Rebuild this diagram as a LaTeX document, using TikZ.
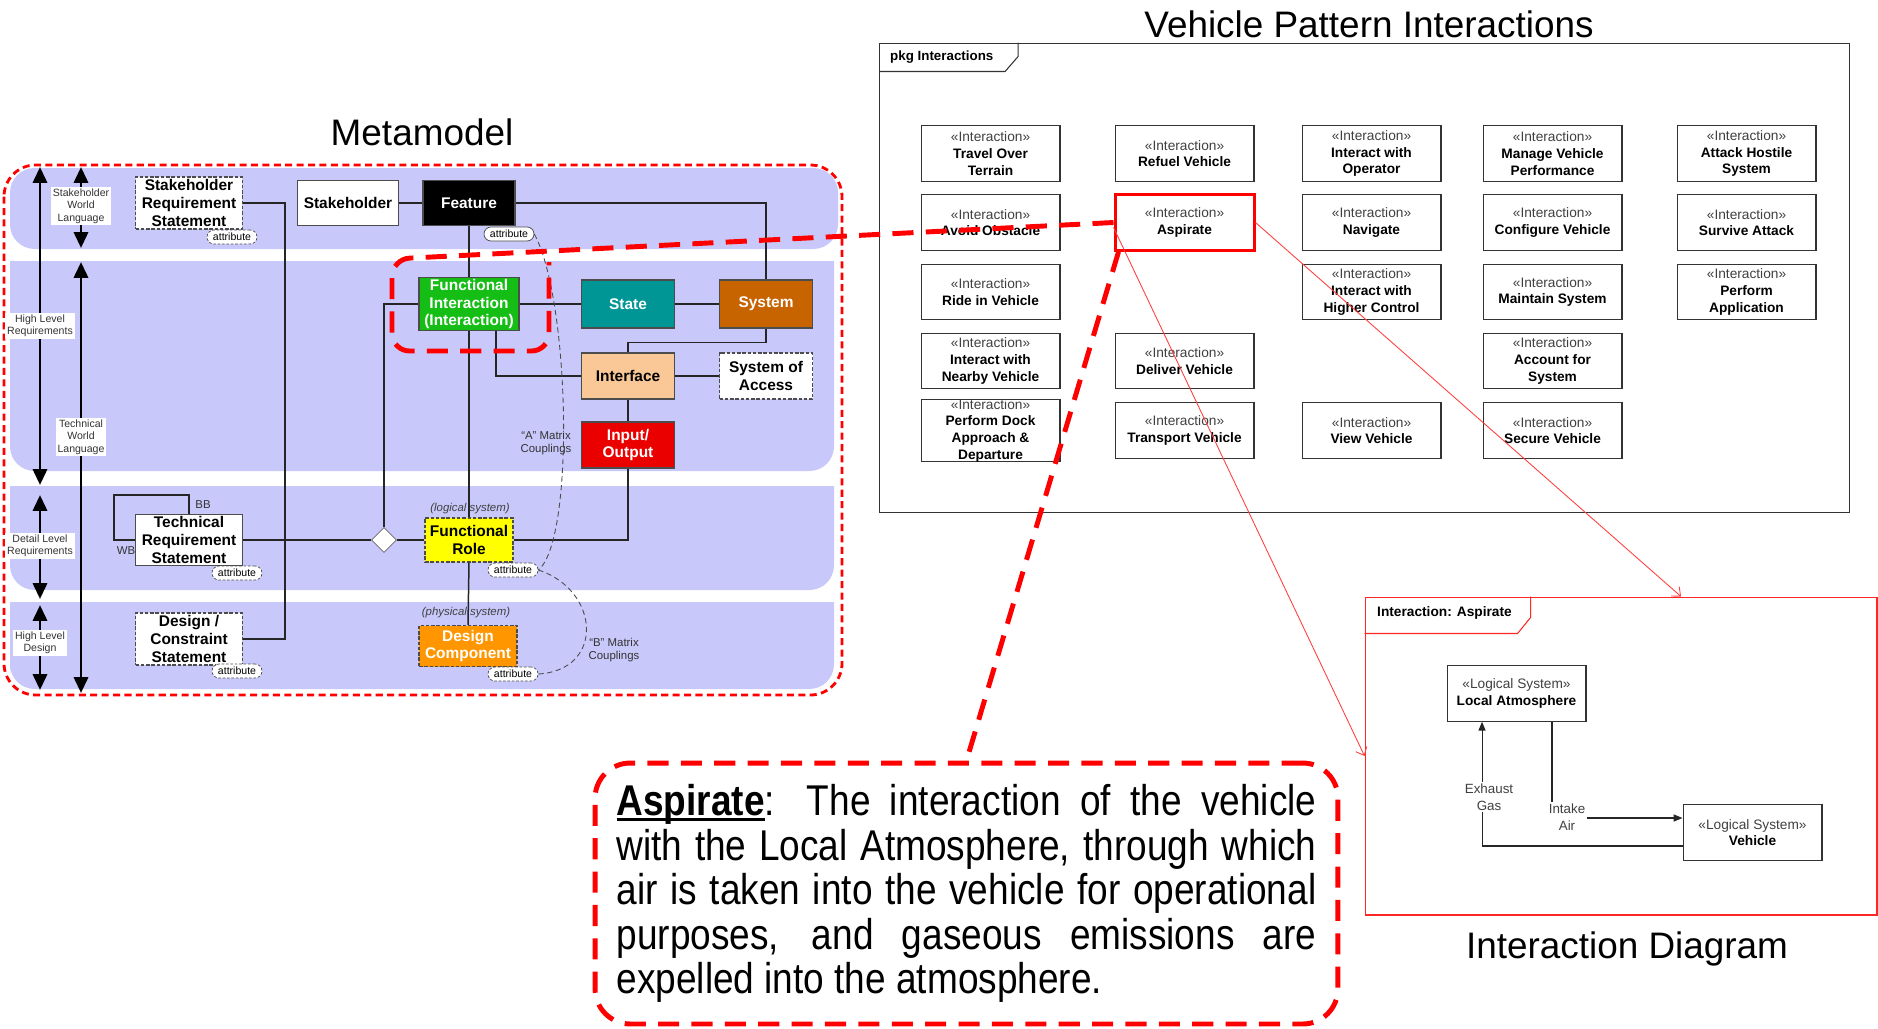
\documentclass[tikz,border=0pt]{standalone}
\usepackage{fontspec}
\setmainfont{Liberation Sans}
\newfontfamily\narrowfont[FakeStretch=0.86]{Liberation Sans}
\usetikzlibrary{arrows.meta, shapes.geometric}

\definecolor{bandblue}{RGB}{200,200,250}
\definecolor{figreen}{RGB}{20,190,20}
\definecolor{stateteal}{RGB}{0,150,150}
\definecolor{sysbrown}{RGB}{200,100,0}
\definecolor{peach}{RGB}{250,200,150}
\definecolor{iored}{RGB}{235,0,0}
\definecolor{roleyellow}{RGB}{255,255,0}
\definecolor{comporange}{RGB}{255,150,0}
\definecolor{hired}{RGB}{255,0,0}

\tikzset{
  band/.style = {fill = bandblue},
  mbox/.style = {draw = black!70, line width = 0.6pt, align = center, inner sep = 1pt,
    font = \fontsize{8.8}{10.2}\selectfont\bfseries},
  dbox/.style = {mbox, dash pattern = on 2pt off 1pt},
  attr/.style = {draw = black!70, fill = white, dash pattern = on 1.5pt off 1pt,
    rounded corners = 0.14cm, minimum width = 1cm, minimum height = 0.28cm,
    inner sep = 0.5pt, font = \fontsize{6}{6}\selectfont},
  side/.style = {fill = white, inner sep = 1pt, align = center, text = black!80,
    font = \fontsize{6}{7}\selectfont},
  twoway/.style = {line width = 1.7pt,
    {Triangle[length = 9pt, width = 8pt]}-{Triangle[length = 9pt, width = 8pt]}},
  link/.style = {line width = 0.85pt, black!85},
  couple/.style = {black!70, line width = 0.5pt, dash pattern = on 3pt off 2pt},
  ia/.style = {draw = black!80, fill = white, line width = 0.6pt, minimum width = 2.78cm,
    minimum height = 1.11cm, align = center, inner sep = 0pt,
    font = \fontsize{7.8}{9.5}\selectfont},
  heavy/.style = {hired, line width = 2.8pt, dash pattern = on 12pt off 7pt},
  thinred/.style = {red!75, line width = 0.5pt, -{Straight Barb[length = 4pt, width = 7pt]}},
  flow/.style = {black!85, line width = 0.6pt, -{Triangle[length = 5pt, width = 4pt]}},
  title/.style = {font = \fontsize{21}{24}\selectfont}
}
\newcommand\stereo[1]{{\color{black!75}«#1»}\\}
\newlength\asplen
\newcommand\aspword{\settowidth\asplen{\textbf{Aspirate}}%
  \rlap{\rule[-3.2pt]{\asplen}{1.7pt}}\textbf{Aspirate}}

\begin{document}
\begin{tikzpicture}[x = 0.02cm, y = -0.02cm]
    \useasboundingbox (0,0) rectangle (1878,1028);

    \fill [band, rounded corners = 14pt] (423,249) -- (10,249) -- (10,168)
      -- (838,168) -- (838,249) [sharp corners] -- cycle;
    \fill [band] (10,366) -- (10,261) -- (834,261) [rounded corners = 14pt]
      -- (834,471) -- (10,471) -- cycle;
    \fill [band] (10,540) -- (10,486) -- (834,486) [rounded corners = 14pt]
      -- (834,590) -- (10,590) -- cycle;
    \fill [band] (10,650) -- (10,602) -- (834,602) [rounded corners = 14pt]
      -- (834,689) -- (10,689) -- cycle;
    \draw [hired, line width = 1.6pt, dash pattern = on 4pt off 2.5pt,
      rounded corners = 18pt] (4,165) rectangle (842,695);

    \node [title] (mtitle) at (422,132) {Metamodel};
    \node [title] (ptitle) at (1369,24) {Vehicle Pattern Interactions};
    \node [title] (dtitle) at (1627,949) {Interaction Diagram};

    \draw [twoway] (40,167) -- (40,485);
    \draw [twoway] (40,495) -- (40,599);
    \draw [twoway] (40,605) -- (40,690);
    \draw [twoway] (81,167) -- (81,248);
    \draw [twoway] (81,262) -- (81,693);
    \node [side] (swl) at (81,206) {Stakeholder\\World\\Language};
    \node [side] (hlr) at (40,326) {High Level\\Requirements};
    \node [side] (twl) at (81,437) {Technical\\World\\Language};
    \node [side] (dlr) at (40,546) {Detail Level\\Requirements};
    \node [side] (hld) at (40,643) {High Level\\Design};

    \node [dbox, fill = white, minimum width = 2.14cm, minimum height = 1.04cm]
      (srs) at (189,203) {Stakeholder\\Requirement\\Statement};
    \node [mbox, fill = white, minimum width = 2.02cm, minimum height = 0.9cm]
      (stk) at (348,203) {Stakeholder};
    \node [mbox, fill = black, text = white, minimum width = 1.84cm, minimum height = 0.9cm]
      (feat) at (469,203) {Feature};
    \node [mbox, fill = figreen, text = white, minimum width = 2cm, minimum height = 1.06cm]
      (fi) at (469,304) {Functional\\Interaction\\(Interaction)};
    \node [mbox, fill = stateteal, text = white, minimum width = 1.86cm, minimum height = 0.96cm]
      (state) at (628,304) {State};
    \node [mbox, fill = sysbrown, text = white, minimum width = 1.86cm, minimum height = 0.96cm]
      (sys) at (766,304) {System};
    \node [mbox, fill = peach, minimum width = 1.86cm, minimum height = 0.92cm]
      (intf) at (628,376) {Interface};
    \node [dbox, fill = white, minimum width = 1.86cm, minimum height = 0.92cm]
      (soa) at (766,376) {System of\\Access};
    \node [mbox, fill = iored, text = white, minimum width = 1.86cm, minimum height = 0.92cm]
      (io) at (628,445) {Input/\\Output};
    \node [mbox, fill = white, minimum width = 2.14cm, minimum height = 1cm]
      (trs) at (189,540) {Technical\\Requirement\\Statement};
    \node [draw = black!60, fill = white, diamond, minimum size = 0.5cm, inner sep = 0pt]
      (dia) at (384,540) {};
    \node [dbox, fill = roleyellow, minimum width = 1.76cm, minimum height = 0.88cm]
      (frole) at (469,540) {Functional\\Role};
    \node [dbox, fill = white, minimum width = 2.14cm, minimum height = 1.04cm]
      (dcs) at (189,639) {Design /\\Constraint\\Statement};
    \node [dbox, fill = comporange, text = white, minimum width = 1.96cm, minimum height = 0.82cm]
      (dcomp) at (468,646) {Design\\Component};

    \node [font = \fontsize{6.5}{7}\selectfont\itshape, text = black!75]
      (logic) at (470,509) {(logical system)};
    \node [font = \fontsize{6.5}{7}\selectfont\itshape, text = black!75]
      (phys) at (466,613) {(physical system)};
    \node [font = \fontsize{6.5}{7}\selectfont, text = black!80] (bb) at (203,505) {BB};
    \node [font = \fontsize{6.5}{7}\selectfont, text = black!80] (wb) at (126,551) {WB};

    \draw [link] (srs.east) -- ++(42,0) |- (dcs.east);
    \draw [link] (stk) -- (feat);
    \draw [link] (feat.east) -| (sys.north);
    \draw [link] (feat.south) -- (fi.north);
    \draw [link] (fi.south) -- (frole.north);
    \draw [link] (frole.south) -- (dcomp.north);
    \draw [link] (fi.west) -| (dia.north);
    \draw [link] (fi) -- (state);
    \draw [link] (state) -- (sys);
    \draw [link] ([xshift = 0.54cm]fi.south) |- (intf.west);
    \draw [link] (sys.south) -- ++(0,14) -| (intf.north);
    \draw [link] (intf) -- (soa);
    \draw [link] (intf) -- (io);
    \draw [link] (io.south) |- (frole.east);
    \draw [link] (trs) -- (dia);
    \draw [link] (dia) -- (frole);
    \draw [link] (trs.west) -- ++(-21,0) -- ++(0,-45) -| (trs.north);

    \node [attr, solid] (featattr) at (509,234) {attribute};
    \node [attr] (srsattr) at (232,237) {attribute};
    \node [attr] (trsattr) at (237,573) {attribute};
    \node [attr] (roleattr) at (513,570) {attribute};
    \node [attr] (dcsattr) at (237,671) {attribute};
    \node [attr] (compattr) at (513,674) {attribute};

    \draw [couple] (featattr.east) .. controls (570,300) and (575,540) .. (roleattr.east);
    \draw [couple] (roleattr.east) .. controls (600,590) and (605,670) .. (compattr.east);
    \node [align = center, text = black!80, font = \fontsize{6.5}{7.5}\selectfont]
      (amat) at (546,443) {“A” Matrix\\Couplings};
    \node [align = center, text = black!80, font = \fontsize{6.5}{7.5}\selectfont]
      (bmat) at (614,650) {“B” Matrix\\Couplings};

    \node [draw = black!80, line width = 0.6pt, minimum width = 19.4cm, minimum height = 9.4cm]
      (pkg) at (1364.5,278) {};
    \draw [black!80, line width = 0.6pt] (pkg.north west) ++(0,29) -- ++(126,0)
      -- ++(13,-15) -- ++(0,-14);
    \node [anchor = west, font = \fontsize{7.6}{9}\selectfont\bfseries]
      (pkglbl) at (884,57) {pkg Interactions};

    \node [ia] (travel) at (990.5,153.5) {\stereo{Interaction}\textbf{Travel Over}\\\textbf{Terrain}};
    \node [ia] (refuel) at (1184.5,153.5) {\stereo{Interaction}\textbf{Refuel Vehicle}};
    \node [ia] (operator) at (1371.5,153.5) {\stereo{Interaction}\textbf{Interact with}\\\textbf{Operator}};
    \node [ia] (manage) at (1552.5,153.5) {\stereo{Interaction}\textbf{Manage Vehicle}\\\textbf{Performance}};
    \node [ia] (attack) at (1746.5,153.5) {\stereo{Interaction}\textbf{Attack Hostile}\\\textbf{System}};
    \node [ia] (avoid) at (990.5,222.5) {\stereo{Interaction}\textbf{Avoid Obstacle}};
    \node [ia, draw = red, line width = 1.7pt] (asp) at (1184.5,222.5) {\stereo{Interaction}\textbf{Aspirate}};
    \node [ia] (navigate) at (1371.5,222.5) {\stereo{Interaction}\textbf{Navigate}};
    \node [ia] (configure) at (1552.5,222.5) {\stereo{Interaction}\textbf{Configure Vehicle}};
    \node [ia] (survive) at (1746.5,222.5) {\stereo{Interaction}\textbf{Survive Attack}};
    \node [ia] (ride) at (990.5,292) {\stereo{Interaction}\textbf{Ride in Vehicle}};
    \node [ia] (higher) at (1371.5,292) {\stereo{Interaction}\textbf{Interact with}\\\textbf{Higher Control}};
    \node [ia] (maintain) at (1552.5,292) {\stereo{Interaction}\textbf{Maintain System}};
    \node [ia] (perform) at (1746.5,292) {\stereo{Interaction}\textbf{Perform}\\\textbf{Application}};
    \node [ia] (nearby) at (990.5,361) {\stereo{Interaction}\textbf{Interact with}\\\textbf{Nearby Vehicle}};
    \node [ia] (deliver) at (1184.5,361) {\stereo{Interaction}\textbf{Deliver Vehicle}};
    \node [ia] (account) at (1552.5,361) {\stereo{Interaction}\textbf{Account for}\\\textbf{System}};
    \node [ia] (dock) at (990.5,430.5) {\stereo{Interaction}\textbf{Perform Dock}\\\textbf{Approach \&}\\\textbf{Departure}};
    \node [ia] (transport) at (1184.5,430.5) {\stereo{Interaction}\textbf{Transport Vehicle}};
    \node [ia] (view) at (1371.5,430.5) {\stereo{Interaction}\textbf{View Vehicle}};
    \node [ia] (secure) at (1552.5,430.5) {\stereo{Interaction}\textbf{Secure Vehicle}};

    \node [draw = red!85, line width = 0.6pt, minimum width = 10.24cm, minimum height = 6.36cm]
      (idframe) at (1621,756) {};
    \draw [red!85, line width = 0.6pt] (idframe.north west) ++(0,37) -- ++(153,0)
      -- ++(13,-16) -- ++(0,-21);
    \node [anchor = west, font = \fontsize{7.8}{9}\selectfont\bfseries]
      (idlbl) at (1371,613) {Interaction: Aspirate};

    \node [ia] (la) at (1516.5,693.5) {\stereo{Logical System}\textbf{Local Atmosphere}};
    \node [ia] (veh) at (1752.5,832.5) {\stereo{Logical System}\textbf{Vehicle}};
    \draw [flow] ([yshift = -0.27cm]veh.west) -| ([xshift = -0.69cm]la.south);
    \draw [flow] ([xshift = 0.71cm]la.south) |- ([yshift = 0.29cm]veh.west);
    \node [fill = white, align = center, inner sep = 1pt, text = black!75,
      font = \fontsize{7.6}{9.4}\selectfont] (exhaust) at (1489,797) {Exhaust\\Gas};
    \node [fill = white, align = center, inner sep = 1pt, text = black!75,
      font = \fontsize{7.6}{9.4}\selectfont] (intake) at (1567,817) {Intake\\Air};

    \draw [thinred] (asp.east) -- ([xshift = 1.2cm]idframe.north);
    \draw [thinred] ([yshift = -0.1cm]asp.west) -- (idframe.west);

    \node [draw = hired, line width = 2.8pt, dash pattern = on 12pt off 7pt,
      rounded corners = 20pt, minimum width = 14.86cm, minimum height = 5.22cm,
      text width = 14cm, align = justify,
      font = \narrowfont\fontsize{24.5}{25.4}\selectfont] (desc) at (966.5,893.5)
      {\aspword: The interaction of the vehicle\linebreak
       with the Local Atmosphere, through which\linebreak
       air is taken into the vehicle for operational\linebreak
       purposes, and gaseous emissions are\linebreak
       expelled into the atmosphere.};

    \draw [heavy, rounded corners = 10pt] (asp.west) -- (392,259) -- (392,351)
      -- (549,351) -- (549,262);
    \draw [heavy] ([xshift = 0.1cm]asp.south west) -- (desc.north);
\end{tikzpicture}
\end{document}
